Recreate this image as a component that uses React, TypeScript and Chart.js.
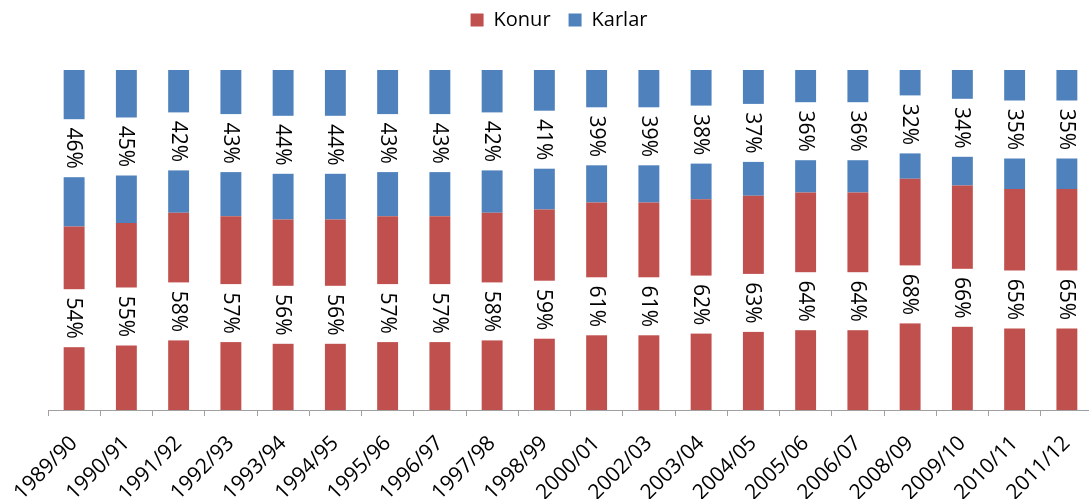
import React, { useEffect, useRef } from "react";
import { Chart, registerables } from "chart.js";

Chart.register(...registerables);

const categories = [
  "1989/90", "1990/91", "1991/92", "1992/93", "1993/94", "1994/95", "1995/96",
  "1996/97", "1997/98", "1998/99", "2000/01", "2002/03", "2003/04", "2004/05",
  "2005/06", "2006/07", "2008/09", "2009/10", "2010/11", "2011/12",
];
const konur = [54, 55, 58, 57, 56, 56, 57, 57, 58, 59, 61, 61, 62, 63, 64, 64, 68, 66, 65, 65];
const karlar = [46, 45, 42, 43, 44, 44, 43, 43, 42, 41, 39, 39, 38, 37, 36, 36, 32, 34, 35, 35];

const RED = "#C0504D";
const BLUE = "#4F81BD";
const FONT = "'Open Sans', sans-serif";

const legendHeightPlugin = {
  id: "legendHeight",
  beforeLayout(chart: any) {
    const lg = chart.legend;
    if (lg && !lg.__patched) {
      const orig = lg.fit;
      lg.fit = function () {
        orig.call(this);
        this.height = 78;
      };
      lg.__patched = true;
    }
  },
};

const labelPlugin = {
  id: "segLabels",
  afterDatasetsDraw(chart: any) {
    const ctx = chart.ctx;
    chart.data.datasets.forEach((ds: any, di: number) => {
      const meta = chart.getDatasetMeta(di);
      meta.data.forEach((el: any, i: number) => {
        const cy = (el.y + el.base) / 2;
        const w = el.width;
        ctx.save();
        ctx.fillStyle = "#ffffff";
        ctx.fillRect(el.x - w / 2 - 1, cy - 29, w + 2, 58);
        ctx.translate(el.x, cy);
        ctx.rotate(Math.PI / 2);
        ctx.fillStyle = "#000000";
        ctx.font = `21px ${FONT}`;
        ctx.textAlign = "center";
        ctx.textBaseline = "middle";
        ctx.fillText(`${ds.data[i]}%`, 0, 1);
        ctx.restore();
      });
    });
  },
};

export default function App() {
  const ref = useRef<HTMLCanvasElement>(null);
  useEffect(() => {
    if (!ref.current) return;
    const chart = new Chart(ref.current, {
      type: "bar",
      data: {
        labels: categories,
        datasets: [
          { label: "Konur", data: konur, backgroundColor: RED, borderWidth: 0 },
          { label: "Karlar", data: karlar, backgroundColor: BLUE, borderWidth: 0 },
        ],
      },
      options: {
        animation: false,
        responsive: false,
        devicePixelRatio: 1,
        layout: { padding: { left: 25, right: 7, top: -8, bottom: 0 } },
        datasets: { bar: { categoryPercentage: 1, barPercentage: 0.4 } },
        plugins: {
          legend: {
            position: "top",
            labels: {
              boxWidth: 13,
              boxHeight: 13,
              padding: 18,
              color: "#000",
              font: { family: FONT, size: 20 },
            },
          },
          tooltip: { enabled: false },
        },
        scales: {
          x: {
            stacked: true,
            grid: {
              display: true,
              drawOnChartArea: false,
              drawTicks: true,
              tickLength: 6,
              color: "#a0a0a0",
              offset: true,
            },
            border: { display: true, color: "#a0a0a0", width: 1 },
            ticks: {
              autoSkip: false,
              minRotation: 45,
              maxRotation: 45,
              color: "#000",
              padding: 15,
              font: { family: FONT, size: 21 },
            },
            afterFit: (s: any) => {
              s.height = 110;
            },
          },
          y: {
            stacked: true,
            min: 0,
            max: 100,
            display: true,
            grid: { display: false },
            border: { display: false },
            ticks: { display: false },
            afterFit: (s: any) => {
              s.width = 23;
            },
          },
        },
      },
      plugins: [legendHeightPlugin, labelPlugin],
    });
    return () => chart.destroy();
  }, []);
  return (
    <div
      style={{
        position: "fixed",
        left: 0,
        top: 0,
        width: 1089,
        height: 499,
        overflow: "hidden",
        background: "#fff",
      }}
    >
      <canvas ref={ref} width={1100} height={520} style={{ display: "block" }} />
    </div>
  );
}
